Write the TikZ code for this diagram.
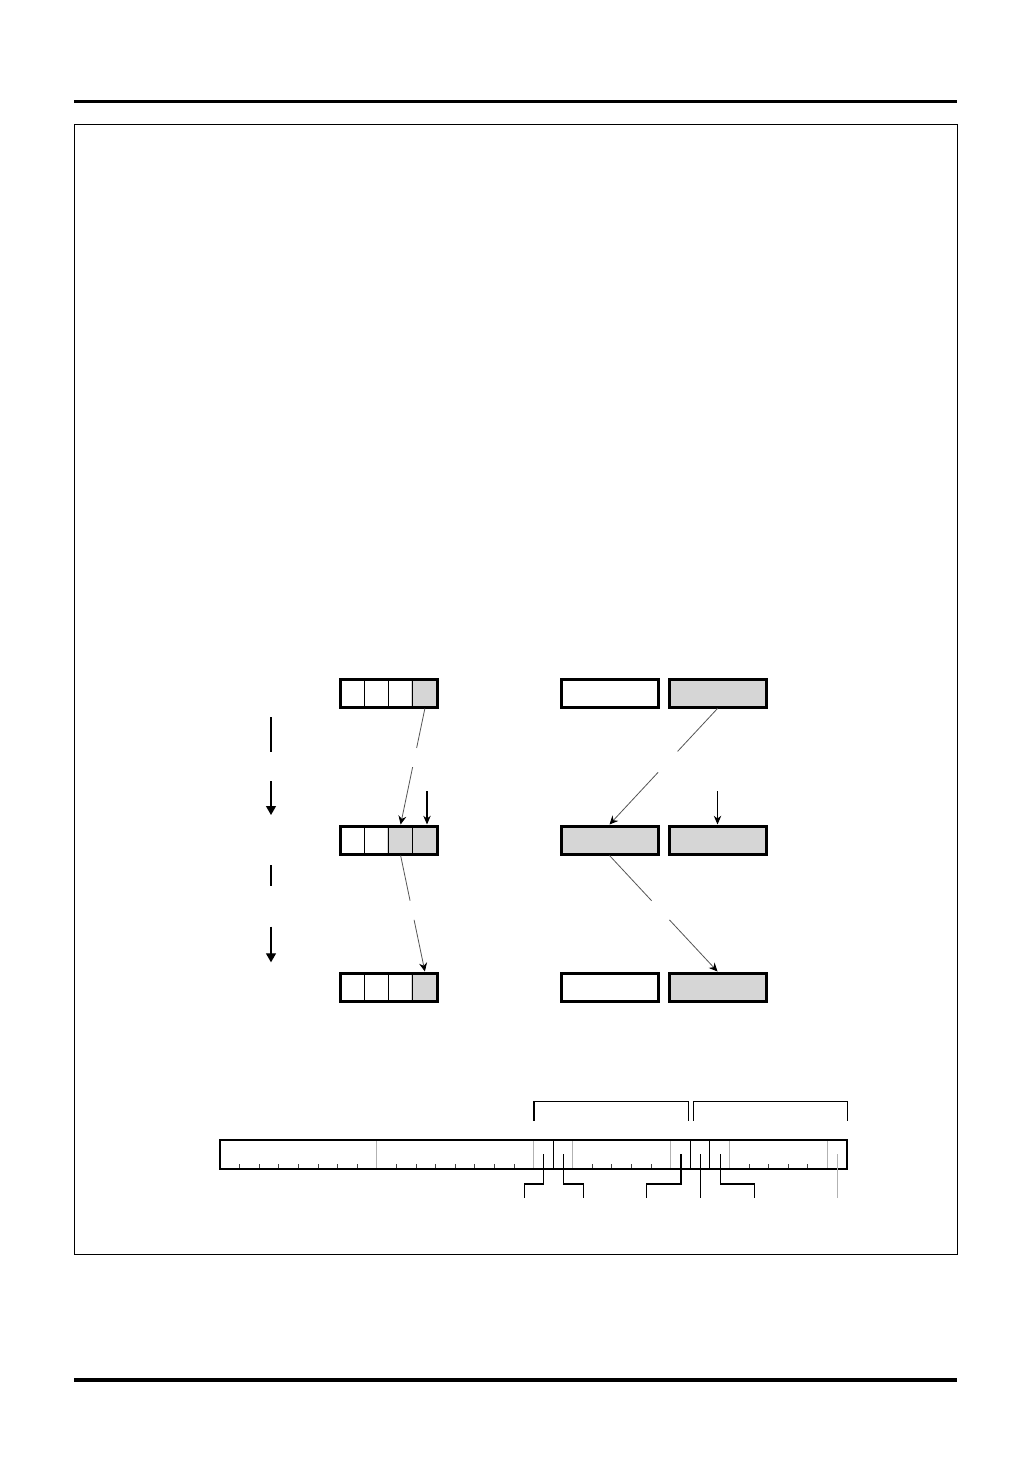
\documentclass[tikz,border=0pt]{standalone}
\usetikzlibrary{arrows.meta,calc}
\definecolor{cellgray}{HTML}{D6D6D6}
\definecolor{conngray}{HTML}{555555}
\tikzset{
  rulethick/.style={line width=2.25pt,black},
  framebox/.style={line width=1.1pt,black},
  bigbox/.style={draw,line width=2.25pt,minimum width=72.75pt,minimum height=21pt,inner sep=0pt,outer sep=1.125pt},
  cellbox/.style={draw,line width=0.75pt,minimum width=18.1875pt,minimum height=21pt,inner sep=0pt,outer sep=1.125pt},
  shaded/.style={fill=cellgray},
  conn/.style={draw=conngray,line width=0.6pt},
  connarrow/.style={conn,-{Stealth[length=6.5pt,width=6pt,inset=2.2pt,color=black]}},
  feed/.style={draw,black,line width=0.9pt,-{Stealth[length=6.5pt,width=5.5pt,inset=2pt]}},
  flow/.style={draw,black,line width=0.9pt},
  flowarrow/.style={flow,-{Triangle[length=6.75pt,width=7.5pt]}},
  regline/.style={line width=0.9pt,black},
  fullgray/.style={line width=0.8pt,gray!60},
  fullblack/.style={line width=0.8pt,black},
  tick/.style={line width=0.6pt,black!75},
  pointer/.style={line width=0.9pt,black},
  graypointer/.style={line width=0.9pt,gray!60},
}
\begin{document}
\begin{tikzpicture}[x=0.75pt,y=-0.75pt]
\fill[white] (0,0) rectangle (1032,1458);
\useasboundingbox (0,0) rectangle (1032,1458);
% page rules and frame
\draw[rulethick] (74,101.5) -- (957,101.5);
\draw[line width=2.8pt] (74,1380) -- (957,1380);
\draw[framebox] (74.5,124.5) rectangle (957.5,1254.5);

% left registers (4 cells)
\foreach \r/\y in {1/693,2/840,3/987}{
  \foreach \k in {1,...,4}{
    \node[cellbox] (L\r c\k) at ({340+24.25*(\k-0.5)},\y) {};
  }
}
\fill[cellgray] (L1c4.south west) rectangle (L1c4.north east);
\fill[cellgray] (L2c3.south west) rectangle (L2c4.north east);
\fill[cellgray] (L3c4.south west) rectangle (L3c4.north east);
\foreach \r/\y in {1/693,2/840,3/987}{
  \foreach \k in {1,...,4}{
    \node[cellbox] at ({340+24.25*(\k-0.5)},\y) {};
  }
  \node[bigbox] (L\r) at (388.5,\y) {};
}

% right registers
\node[bigbox] (A1) at (609.5,693) {};
\node[bigbox,shaded] (B1) at (717.5,693) {};
\node[bigbox,shaded] (A2) at (609.5,840) {};
\node[bigbox,shaded] (B2) at (717.5,840) {};
\node[bigbox] (A3) at (609.5,987) {};
\node[bigbox,shaded] (B3) at (717.5,987) {};

% connectors with gaps (left)
\draw[conn] (L1c4.south) -- ($(L1c4.south)!0.34!(L2c3.north)$);
\draw[connarrow] ($(L1c4.south)!0.505!(L2c3.north)$) -- (L2c3.north);
\draw[conn] (L2c3.south) -- ($(L2c3.south)!0.39!(L3c4.north)$);
\draw[connarrow] ($(L2c3.south)!0.555!(L3c4.north)$) -- (L3c4.north);
\coordinate (inL) at (427,791);
\draw[feed] (inL) -- (inL |- L2c4.north);

% connectors with gaps (right)
\draw[conn] (B1.south) -- ($(B1.south)!0.37!(A2.north)$);
\draw[connarrow] ($(B1.south)!0.55!(A2.north)$) -- (A2.north);
\draw[conn] (A2.south) -- ($(A2.south)!0.39!(B3.north)$);
\draw[connarrow] ($(A2.south)!0.555!(B3.north)$) -- (B3.north);
\coordinate (inR) at (717.5,791);
\draw[feed] (inR) -- (B2.north);

% left flow arrows
\coordinate (f1a) at (271,717);
\coordinate (f1b) at (271,751.7);
\coordinate (f1c) at (271,781);
\coordinate (f1d) at (271,815);
\coordinate (f2a) at (271,865);
\coordinate (f2b) at (271,885.7);
\coordinate (f2c) at (271,926.7);
\coordinate (f2d) at (271,962.3);
\draw[flow] (f1a) -- (f1b);
\draw[flowarrow] (f1c) -- (f1d);
\draw[flow] (f2a) -- (f2b);
\draw[flowarrow] (f2c) -- (f2d);

% register bar (32 bits)
\foreach \i in {1,...,7,9,10,...,15,19,20,21,22,27,28,29,30}{
  \draw[tick] ({220+19.594*\i},1169) -- ({220+19.594*\i},1163.5);
}
\foreach \i in {8,16,18,23,26,31}{
  \draw[fullgray] ({220+19.594*\i},1140) -- ({220+19.594*\i},1169);
}
\foreach \i in {17,24,25}{
  \draw[fullblack] ({220+19.594*\i},1140) -- ({220+19.594*\i},1169);
}
\draw[regline] (220,1140) rectangle (847,1169);

% brackets
\draw[pointer] (534,1120.7) -- (534,1101.7) -- (688.3,1101.7) -- (688.3,1120.7);
\draw[pointer] (693.3,1120.7) -- (693.3,1101.7) -- (847.3,1101.7) -- (847.3,1120.7);

% pointers
\draw[pointer] (543.4,1154) -- (543.4,1184) -- (524.3,1184) -- (524.3,1198);
\draw[pointer] (563.2,1154) -- (563.2,1184) -- (583.3,1184) -- (583.3,1198);
\draw[pointer] (681,1154) -- (681,1184) -- (646.3,1184) -- (646.3,1198);
\draw[pointer] (700.3,1154) -- (700.3,1198);
\draw[pointer] (720.2,1154) -- (720.2,1184) -- (754.3,1184) -- (754.3,1198);
\draw[graypointer] (837.4,1154) -- (837.4,1198);
\end{tikzpicture}
\end{document}
